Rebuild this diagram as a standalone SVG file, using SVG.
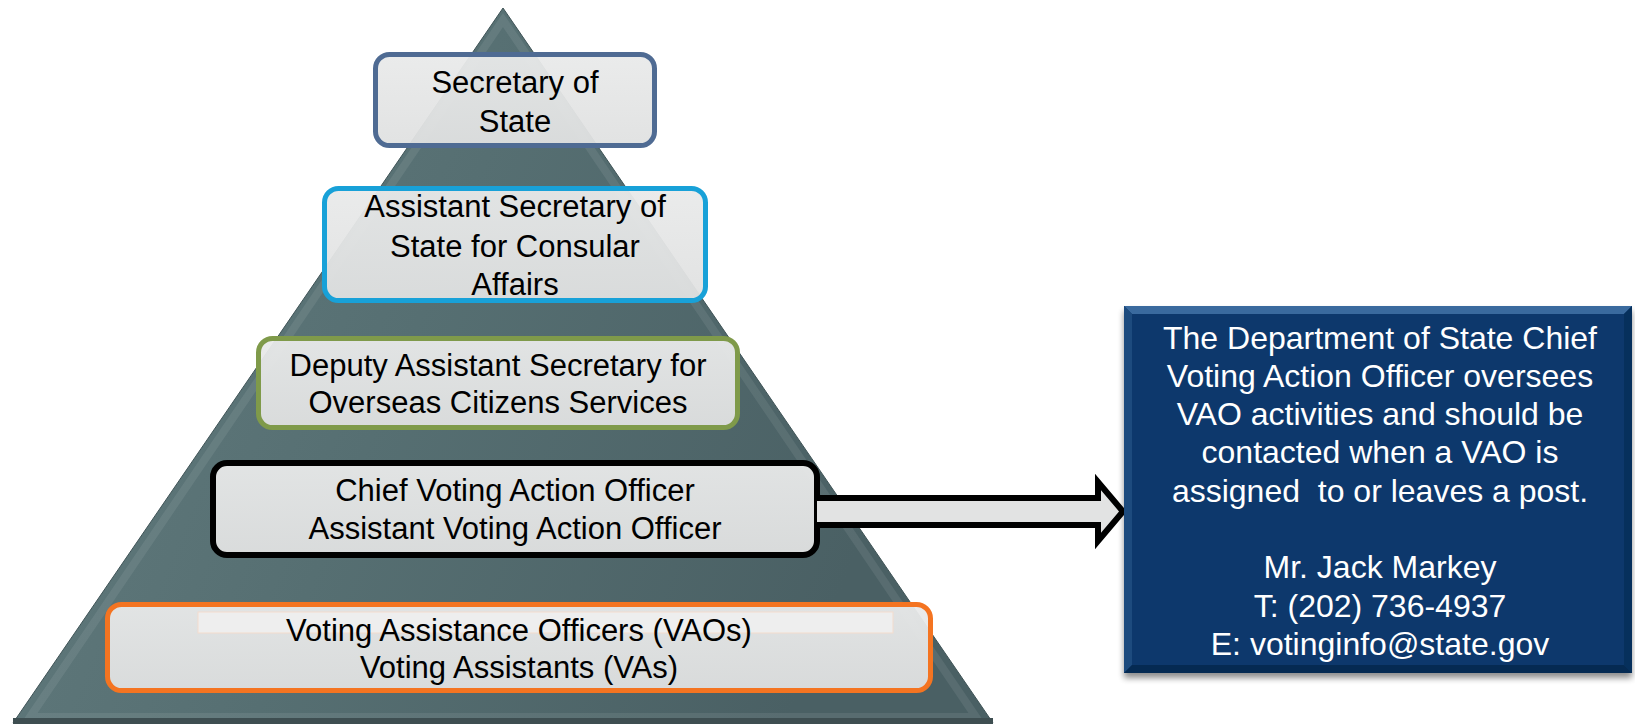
<svg xmlns="http://www.w3.org/2000/svg" width="1635" height="724" viewBox="0 0 1635 724">
  <defs>
    <linearGradient id="pyrFill" x1="0" y1="0" x2="1" y2="0.3">
      <stop offset="0" stop-color="#647d80"/>
      <stop offset="0.5" stop-color="#566f72"/>
      <stop offset="1" stop-color="#4a6064"/>
    </linearGradient>
    <linearGradient id="boxFill" x1="0" y1="0" x2="0" y2="1">
      <stop offset="0" stop-color="#e9eaea"/>
      <stop offset="1" stop-color="#e0e1e1"/>
    </linearGradient>
    <filter id="shadow" x="-5%" y="-5%" width="110%" height="115%">
      <feGaussianBlur in="SourceAlpha" stdDeviation="3"/>
      <feOffset dx="0" dy="5" result="b"/>
      <feComponentTransfer><feFuncA type="linear" slope="0.45"/></feComponentTransfer>
      <feMerge><feMergeNode/><feMergeNode in="SourceGraphic"/></feMerge>
    </filter>
  </defs>
  <style>
    .tier { fill: url(#boxFill); fill-opacity: 0.95; }
    .lbl { font-family: "Liberation Sans", Arial, sans-serif; font-size: 31px; fill: #000; text-anchor: middle; }
    .note { font-family: "Liberation Sans", Arial, sans-serif; font-size: 32px; fill: #ffffff; text-anchor: middle; }
    .arrow { fill: #e2e3e3; stroke: #000; stroke-width: 6; stroke-linejoin: miter; stroke-miterlimit: 10; }
  </style>

  <rect width="1635" height="724" fill="#ffffff"/>

  <!-- pyramid backdrop -->
  <g id="pyramid">
    <polygon points="503,8 13,723 993,723" fill="url(#pyrFill)"/>
    <polygon points="503,20 30,717 976,717" fill="none" stroke="#ffffff" stroke-opacity="0.08" stroke-width="8"/>
    <polygon points="503,8 13,723 993,723" fill="none" stroke="#3f5356" stroke-width="1"/>
    <rect x="13" y="718" width="980" height="6" fill="#3e4e51"/>
  </g>

  <!-- tiers -->
  <g id="tier-secretary">
    <rect class="tier" x="375.5" y="54.5" width="279" height="91" rx="14" stroke="#4f6b93" stroke-width="5"/>
    <text class="lbl" x="515" y="93">Secretary of</text>
    <text class="lbl" x="515" y="132">State</text>
  </g>

  <g id="tier-assistant-secretary">
    <rect class="tier" x="324.5" y="188.5" width="381" height="112" rx="14" stroke="#18a1d8" stroke-width="5"/>
    <text class="lbl" x="515" y="217">Assistant Secretary of</text>
    <text class="lbl" x="515" y="257">State for Consular</text>
    <text class="lbl" x="515" y="295">Affairs</text>
  </g>

  <g id="tier-deputy">
    <rect class="tier" x="258.5" y="338.5" width="479" height="89" rx="14" stroke="#7f9a4a" stroke-width="5"/>
    <text class="lbl" x="498" y="376">Deputy Assistant Secretary for</text>
    <text class="lbl" x="498" y="413">Overseas Citizens Services</text>
  </g>

  <g id="tier-chief-vao">
    <rect class="tier" x="213" y="463" width="604" height="92" rx="14" stroke="#000000" stroke-width="6"/>
    <text class="lbl" x="515" y="501">Chief Voting Action Officer</text>
    <text class="lbl" x="515" y="539">Assistant Voting Action Officer</text>
  </g>

  <g id="tier-vao">
    <rect class="tier" x="107.5" y="604.5" width="823" height="86" rx="14" stroke="#f47421" stroke-width="5"/>
    <rect x="198" y="612" width="695" height="21" fill="#eeeeee" stroke="#f3dccd" stroke-width="1"/>
    <text class="lbl" x="519" y="641">Voting Assistance Officers (VAOs)</text>
    <text class="lbl" x="519" y="678">Voting Assistants (VAs)</text>
  </g>

  <!-- block arrow from the Chief VAO tier to the contact note -->
  <g id="connectors">
    <path class="arrow" d="M 817 498 L 1098 498 L 1098 482 L 1123 511.5 L 1098 541 L 1098 525 L 817 525"/>
  </g>

  <!-- contact note -->
  <g id="contact-note">
    <g filter="url(#shadow)">
      <rect x="1124" y="306" width="508" height="367" fill="#0a396c"/>
    </g>
    <!-- bevel edges -->
    <polygon points="1124,306 1632,306 1624,314 1132,314" fill="#3a6a9e"/>
    <polygon points="1124,306 1132,314 1132,665 1124,673" fill="#1d4b7e"/>
    <polygon points="1632,306 1632,673 1624,665 1624,314" fill="#06305c"/>
    <polygon points="1124,673 1132,665 1624,665 1632,673" fill="#052a52"/>
    <text class="note" x="1380" y="349">The Department of State Chief</text>
    <text class="note" x="1380" y="387">Voting Action Officer oversees</text>
    <text class="note" x="1380" y="425">VAO activities and should be</text>
    <text class="note" x="1380" y="463">contacted when a VAO is</text>
    <text class="note" x="1380" y="502" xml:space="preserve">assigned  to or leaves a post.</text>
    <text class="note" x="1380" y="578">Mr. Jack Markey</text>
    <text class="note" x="1380" y="617">T: (202) 736-4937</text>
    <text class="note" x="1380" y="655">E: votinginfo@state.gov</text>
  </g>
</svg>
